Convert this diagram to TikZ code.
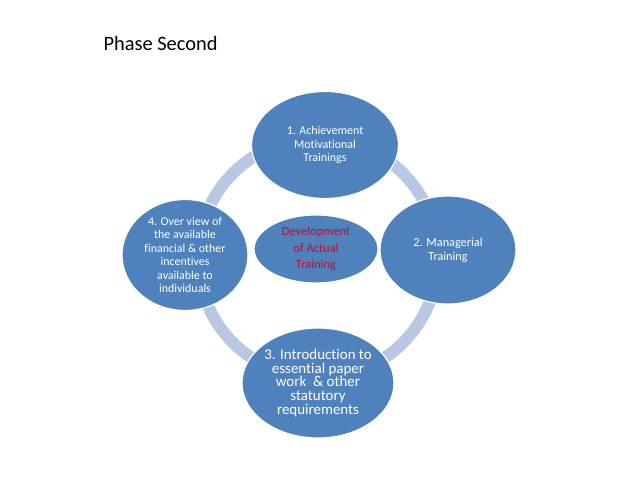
\documentclass[tikz,border=0pt]{standalone}
\usepackage{fontspec}
\setmainfont[Ligatures=NoCommon]{Carlito}
\usetikzlibrary{shapes.geometric}
\definecolor{StepBlue}{RGB}{79,129,189}
\definecolor{RingBlue}{RGB}{185,199,226}
\definecolor{CoreRed}{RGB}{175,20,55}

\begin{document}
\begin{tikzpicture}[
    x=1bp, y=-1bp,
    stage/.style={ellipse, fill=StepBlue, draw=white, line width=1.2bp,
      inner sep=0pt, text=white, align=center,
      font=\fontsize{12}{13.5}\selectfont},
    ring/.style={draw=RingBlue, line width=12bp}
]
  \useasboundingbox (0,0) rectangle (638,479);

  \draw[ring] (318,258) circle[radius=120];

  \node[anchor=base west, font=\fontsize{20.5}{22}\selectfont] (title) at (100,51) {Phase Second};

  \node[stage, minimum width=147bp, minimum height=107bp] (achieve) at (325,145)
    {1. Achievement\\Motivational\\Trainings};
  \node[stage, minimum width=136bp, minimum height=108bp,
        font=\fontsize{12.3}{14}\selectfont] (manage) at (448,250)
    {2. Managerial\\Training};
  \node[stage, minimum width=145bp, minimum height=110bp,
        font=\fontsize{15}{14}\selectfont] (intro) at (318,383)
    {3. Introduction to\\essential paper\\work \ \& other\\statutory\\requirements};
  \node[stage, minimum width=126bp, minimum height=111bp] (overview) at (185,255)
    {4. Over view of\\the available\\financial \& other\\incentives\\available to\\individuals};

  \node[stage, minimum width=124bp, minimum height=68bp, text=CoreRed,
        font=\fontsize{12.5}{16.5}\selectfont] (core) at (316,249)
    {Development\\of Actual\\Training};
\end{tikzpicture}
\end{document}
